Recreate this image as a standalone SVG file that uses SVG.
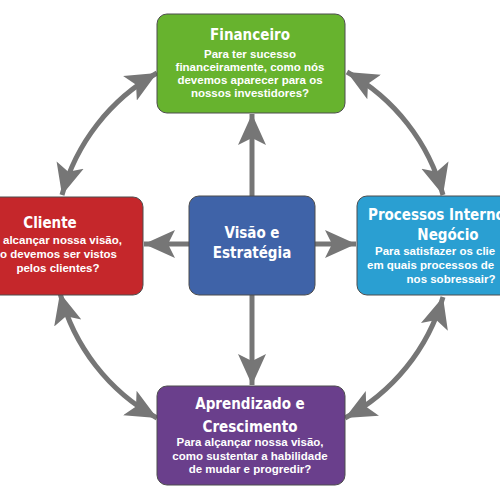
<svg xmlns="http://www.w3.org/2000/svg" width="500" height="500" viewBox="0 0 500 500">
<style>
.box{stroke:#4d4d4d;stroke-width:1}
.t{font-family:"DejaVu Sans Condensed","DejaVu Sans",sans-serif;font-weight:bold;font-size:15px;fill:#fff;text-anchor:middle}
.s{font-family:"Liberation Sans",Arial,sans-serif;font-weight:bold;font-size:11.5px;fill:#fff;text-anchor:middle}
.a{fill:none;stroke:#767676;stroke-width:5}
</style>
<defs>
<marker id="ah" markerUnits="userSpaceOnUse" markerWidth="32" markerHeight="30" viewBox="0 0 32 30" refX="31" refY="15" orient="auto-start-reverse">
<path d="M31,15 L0,1 L7,15 L0,29 Z" fill="#767676"/>
</marker>
</defs>
<rect width="500" height="500" fill="#fff"/>
<g id="connectors">
<path class="a" d="M252,196 L252,114" marker-end="url(#ah)"/>
<path class="a" d="M252,295 L252,385" marker-end="url(#ah)"/>
<path class="a" d="M189,244 L144,244" marker-end="url(#ah)"/>
<path class="a" d="M315,244 L356,244" marker-end="url(#ah)"/>
<path class="a" d="M62,195 A200,200 0 0 1 157,73" marker-start="url(#ah)" marker-end="url(#ah)"/>
<path class="a" d="M347,72 A200,200 0 0 1 443,195" marker-start="url(#ah)" marker-end="url(#ah)"/>
<path class="a" d="M443,297 A200,200 0 0 1 345,418" marker-start="url(#ah)" marker-end="url(#ah)"/>
<path class="a" d="M157,418 A200,200 0 0 1 60,293" marker-start="url(#ah)" marker-end="url(#ah)"/>
</g>
<g id="financeiro">
<rect class="box" x="157" y="14" width="188" height="99" rx="10" fill="#67b32e"/>
<text class="t" x="250" y="40">Financeiro</text>
<text class="s" x="250" y="58">Para ter sucesso</text>
<text class="s" x="250" y="71">financeiramente, como nós</text>
<text class="s" x="250" y="84">devemos aparecer para os</text>
<text class="s" x="250" y="97">nossos investidores?</text>
</g>
<g id="cliente">
<rect class="box" x="-20" y="197" width="163" height="98" rx="10" fill="#c5272b"/>
<text class="t" x="50" y="228">Cliente</text>
<text class="s" x="3" y="244" style="text-anchor:start">alcançar nossa visão,</text>
<text class="s" x="0" y="258" style="text-anchor:start">o devemos ser vistos</text>
<text class="s" x="58" y="272">pelos clientes?</text>
</g>
<g id="processos">
<rect class="box" x="357" y="196" width="163" height="99" rx="10" fill="#2a9fd2"/>
<text class="t" x="368" y="220" style="text-anchor:start">Processos Interno</text>
<text class="t" x="448" y="240">Negócio</text>
<text class="s" x="375" y="255" style="text-anchor:start">Para satisfazer os clie</text>
<text class="s" x="367" y="269" style="text-anchor:start">em quais processos de</text>
<text class="s" x="451" y="283">nos sobressair?</text>
</g>
<g id="visao">
<rect class="box" x="189" y="196" width="126" height="99" rx="10" fill="#3f63a8"/>
<text class="t" x="252" y="238">Visão e</text>
<text class="t" x="252" y="258">Estratégia</text>
</g>
<g id="aprendizado">
<rect class="box" x="157" y="386" width="188" height="99" rx="10" fill="#6a3f8c"/>
<text class="t" x="250" y="409">Aprendizado e</text>
<text class="t" x="250" y="432">Crescimento</text>
<text class="s" x="250" y="446">Para alçançar nossa visão,</text>
<text class="s" x="250" y="460">como sustentar a habilidade</text>
<text class="s" x="250" y="473">de mudar e progredir?</text>
</g>
</svg>
